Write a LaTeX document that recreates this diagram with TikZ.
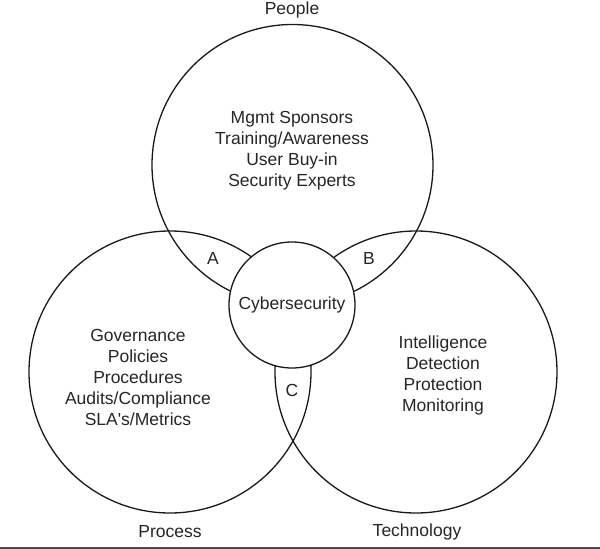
\documentclass[tikz,border=0pt]{standalone}
\usepackage{fontspec}
\setmainfont{Liberation Sans}
\begin{document}
\begin{tikzpicture}[
  x=1pt,
  y=-1pt,
  every node/.style={font=\fontsize{17.5}{21}\selectfont, text=black!85},
  ring/.style={draw=black!90, line width=1.3pt}
]
\def\radius{141pt}

\useasboundingbox (0,0) rectangle (600,549);

%--------------------
% Circles
%--------------------
\draw[ring] (292.5,165) circle (140.5pt);
\draw[ring] (170,372) circle (\radius);
\draw[ring] (416,372) circle (\radius);

%--------------------
% Center circle (covers the overlap)
%--------------------
\node[ring, circle, fill=white, minimum size=126pt, inner sep=0pt] (core) at (292,305) {Cybersecurity};

%--------------------
% Texts inside the circles
%--------------------
\node[align=center] (peopletext) at (292,151) {Mgmt Sponsors\\Training/Awareness\\User Buy-in\\Security Experts};
\node[align=center] (processtext) at (138,377) {Governance\\Policies\\Procedures\\Audits/Compliance\\SLA\textquotesingle s/Metrics};
\node[align=center] (techtext) at (443,375) {Intelligence\\Detection\\Protection\\Monitoring};

%--------------------
% Overlaps
%--------------------
\node (a) at (213,258) {A};
\node (b) at (369,258) {B};
\node (c) at (292,390) {C};

%--------------------
% Titles
%--------------------
\node (people) at (292,10) {People};
\node (process) at (170,532) {Process};
\node (technology) at (417,532) {Technology};

% line at the bottom
\draw[line width=2pt, black!70] (0,547.5) -- (600,547.5);

\end{tikzpicture}
\end{document}
